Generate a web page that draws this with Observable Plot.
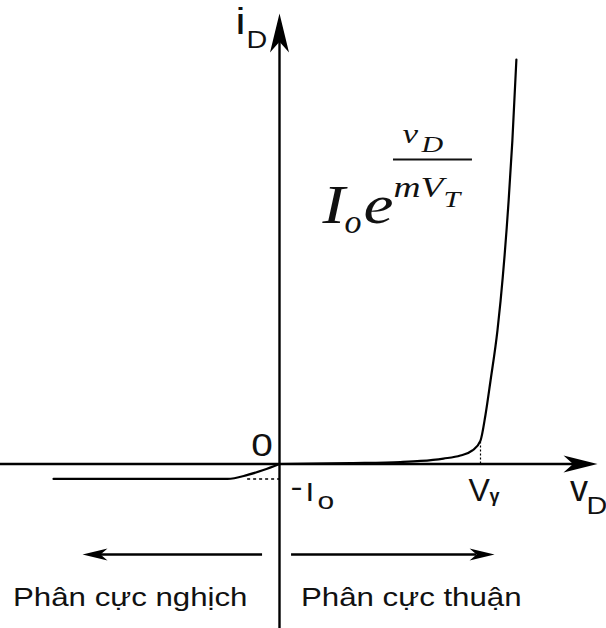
<!DOCTYPE html>
<html>
<head>
<meta charset="utf-8">
<script src="https://cdn.jsdelivr.net/npm/d3@7"></script>
<script src="https://cdn.jsdelivr.net/npm/@observablehq/plot@0.6"></script>
<style>
  html, body { margin: 0; padding: 0; background: #fff; }
  svg { display: block; }
</style>
</head>
<body>
<div id="chart"></div>
<script>
// Diode i–v characteristic (schematic): current in mA, voltage in V.

// Forward-bias branch (exponential rise past the knee)
const vForward = [0, 0.247, 0.421, 0.491, 0.571, 0.630, 0.672, 0.700, 0.717, 0.735, 0.759, 0.770, 0.798, 0.811, 0.825];
const iForward = [0, 0.05, 0.10, 0.15, 0.27, 0.42, 0.67, 1.16, 2.40, 4.13, 6.60, 8.08, 13.03, 15.99, 20.0];

// Reverse-bias branch, levelling off at the saturation current -Io
const vReverse = [-0.787, -0.181, -0.111, -0.056, 0];
const iReverse = [-0.74, -0.74, -0.54, -0.30, 0];

const Io = 0.74;      // reverse saturation current
const Vgamma = 0.70;  // cut-in (knee) voltage

// Drawn extents of the two axes: [start, arrow tip]
const vAxis = [-0.972, 1.1075];
const iAxis = [-8.14, 22.27];

// Bias-direction arrows under the axis: [tail, tip]
const biasLevel = -4.475;
const reverseArrow = [-0.059, -0.686];
const forwardArrow = [0.042, 0.749];
const biasLabels = ["Phân cực nghịch", "Phân cực thuận"];

// Fraction bar of the exponent in Io·e^(vD/mVT)
const fracBar = {v1: 0.397, v2: 0.672, i: 15.06};

// Scales: origin at the axis crossing, Vgamma and 20 mA as reference points
const xDomain = [0, Vgamma], xRange = [279, 480];
const yDomain = [0, 20], yRange = [463.5, 59];
const xs = d3.scaleLinear(xDomain, xRange);
const ys = d3.scaleLinear(yDomain, yRange);

const sans = "'Liberation Sans', Arial, Helvetica, sans-serif";
const serif = "'Liberation Serif', 'Times New Roman', serif";

// Filled, notched arrowhead with its tip at the symbol origin
function arrowhead(dir, len, half) {
  const notch = 0.72 * len;
  const pts = [[0, 0], [-len, -half], [-notch, 0], [-len, half]];
  const turn = {
    right: ([a, b]) => [a, b],
    left: ([a, b]) => [-a, b],
    up: ([a, b]) => [b, -a]
  }[dir];
  const p = pts.map(turn);
  return {
    draw(context) {
      context.moveTo(p[0][0], p[0][1]);
      for (let k = 1; k < p.length; ++k) context.lineTo(p[k][0], p[k][1]);
      context.closePath();
    }
  };
}

// Shaft end (at the arrowhead notch), in data units
const backX = (v, px) => xs.invert(xs(v) - px);
const backY = (i, px) => ys.invert(ys(i) + px);

function glyph(text, at, {dx = 0, dy = 0, size = 25, family = sans, style = "normal", weight = "normal", anchor = "start", wide = true} = {}) {
  return Plot.text([at], {
    x: (d) => d[0], y: (d) => d[1], text: () => text,
    dx, dy, fontSize: size, fontFamily: family, fontStyle: style, fontWeight: weight,
    textAnchor: anchor, lineAnchor: "bottom", fill: "#111",
    ariaDescription: wide ? "wide" : "label"
  });
}

const O = [0, 0];
const yTip = [0, iAxis[1]];
const xTip = [vAxis[1], 0];
const knee = [Vgamma, 0];
const biasAt = [0, biasLevel];
const F = [fracBar.v1, fracBar.i];
const ital = {family: serif, style: "italic"};

const chart = Plot.plot({
  width: 606,
  height: 628,
  margin: 0,
  x: {domain: xDomain, range: xRange, axis: null},
  y: {domain: yDomain, range: yRange, axis: null},
  marks: [
    // axes
    Plot.ruleY([0], {x1: vAxis[0], x2: backX(vAxis[1], 24), stroke: "black", strokeWidth: 2.4}),
    Plot.ruleX([0], {y1: iAxis[0], y2: backY(iAxis[1], 28), stroke: "black", strokeWidth: 2.4}),
    Plot.dot([xTip], {x: (d) => d[0], y: (d) => d[1], symbol: arrowhead("right", 34, 8.5), fill: "black", stroke: "none"}),
    Plot.dot([yTip], {x: (d) => d[0], y: (d) => d[1], symbol: arrowhead("up", 39, 9.5), fill: "black", stroke: "none"}),

    // guide lines at -Io and Vgamma
    Plot.ruleY([-Io], {x1: vReverse[2], x2: 0, stroke: "black", strokeWidth: 1.6, strokeDasharray: "3,3"}),
    Plot.ruleX([Vgamma], {y1: 0, y2: iForward[vForward.indexOf(Vgamma)], stroke: "black", strokeWidth: 1.2, strokeDasharray: "2,2"}),

    // characteristic
    Plot.line(iReverse, {x: vReverse, y: iReverse, curve: "monotone-x", stroke: "black", strokeWidth: 2.2}),
    Plot.line(iForward, {x: vForward, y: iForward, curve: "monotone-x", stroke: "black", strokeWidth: 2.2}),

    // bias-direction arrows
    Plot.ruleY([biasLevel], {x1: reverseArrow[0], x2: backX(reverseArrow[1], -18), stroke: "black", strokeWidth: 2.6}),
    Plot.ruleY([biasLevel], {x1: forwardArrow[0], x2: backX(forwardArrow[1], 18), stroke: "black", strokeWidth: 2.6}),
    Plot.dot([[reverseArrow[1], biasLevel]], {x: (d) => d[0], y: (d) => d[1], symbol: arrowhead("left", 25, 6), fill: "black", stroke: "none"}),
    Plot.dot([[forwardArrow[1], biasLevel]], {x: (d) => d[0], y: (d) => d[1], symbol: arrowhead("right", 25, 6), fill: "black", stroke: "none"}),

    // axis labels and marked values
    glyph("i", yTip, {dx: -44, dy: 20, size: 36}),
    glyph("D", yTip, {dx: -33, dy: 34, size: 23}),
    glyph("0", O, {dx: -17.5, dy: -8, size: 31, anchor: "middle"}),
    glyph("-", O, {dx: 11, dy: 32.5, size: 29}),
    glyph("I", O, {dx: 26, dy: 36.5, size: 25}),
    glyph("o", O, {dx: 38, dy: 44.5, size: 24}),
    glyph("V", knee, {dx: -12, dy: 36.5, size: 32, wide: false}),
    glyph("γ", knee, {dx: 9, dy: 38, size: 18, weight: "bold", wide: false}),
    glyph("v", xTip, {dx: -27.5, dy: 36.5, size: 36, wide: false}),
    glyph("D", xTip, {dx: -11, dy: 49.5, size: 23}),

    // bias captions
    glyph(biasLabels[0], biasAt, {dx: -32, dy: 51, size: 25, anchor: "end"}),
    glyph(biasLabels[1], biasAt, {dx: 21.5, dy: 51, size: 25}),

    // forward-current formula Io·e^(vD / mVT)
    Plot.ruleY([fracBar.i], {x1: fracBar.v1, x2: fracBar.v2, stroke: "#111", strokeWidth: 2}),
    glyph("I", F, {dx: -71, dy: 64, size: 54, ...ital}),
    glyph("o", F, {dx: -49, dy: 74, size: 34, ...ital, wide: false}),
    glyph("e", F, {dx: -30, dy: 64, size: 54, ...ital}),
    glyph("v", F, {dx: 9, dy: -16, size: 28, ...ital}),
    glyph("D", F, {dx: 28, dy: -7, size: 24, ...ital}),
    glyph("mV", F, {dx: 0, dy: 38, size: 30, ...ital}),
    glyph("T", F, {dx: 50, dy: 48, size: 24, ...ital})
  ]
});

// Sans and serif labels are set slightly extended
chart.querySelectorAll('g[aria-description="wide"] text').forEach((t) => {
  t.setAttribute("transform", (t.getAttribute("transform") || "") + " scale(1.25,1)");
});

document.getElementById("chart").appendChild(chart);
</script>
</body>
</html>
